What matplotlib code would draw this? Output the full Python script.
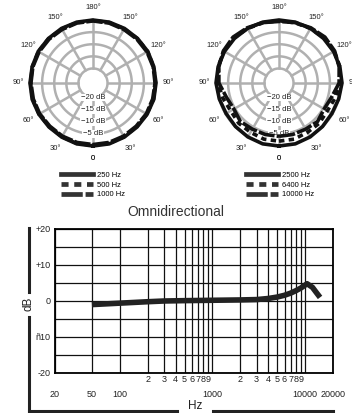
import numpy as np
import matplotlib
matplotlib.use('Agg')
import matplotlib.pyplot as plt
from matplotlib.lines import Line2D

plt.rcParams['font.family'] = ['Liberation Sans', 'DejaVu Sans']

W, H = 352, 413

# polar data (dB), angles 0..180 on one side, mirrored on the other
angles = [0, 15, 30, 45, 60, 75, 90, 105, 120, 135, 150, 165, 180]
left_labels = ['250 Hz', '500 Hz', '1000 Hz']
left_vals = [
    [0, 0, -0.2, -0.3, -0.2, 0, 0, 0, 0.1, 0, 0, 0, 0],
    [-0.3, -0.2, -0.4, -0.5, -0.3, -0.2, -0.2, -0.1, 0, -0.1, -0.2, -0.2, -0.2],
    [-0.6, -0.6, -0.7, -0.8, -0.6, -0.5, -0.4, -0.3, -0.3, -0.4, -0.5, -0.4, -0.4],
]
right_labels = ['2500 Hz', '6400 Hz', '10000 Hz']
right_vals = [
    [0, 0, -0.3, -0.6, -0.8, -0.5, 0, 0, 0, 0, 0, 0, 0],
    [-2, -2, -2.5, -2.5, -3, -2, -0.8, 0, 0.3, 0.3, 0, -0.3, -0.3],
    [-4, -4, -4, -3.5, -4.5, -3.5, -1.2, -0.3, 0.5, 0.8, 0.3, -0.2, -0.6],
]
styles = ['-', (0, (1.5, 1.2)), (0, (4.5, 0.6))]

# frequency response
freq = [50, 100, 200, 300, 500, 1000, 2000, 3000, 4000, 5000, 6000, 7000, 8000, 9000, 10500, 12000, 13000, 14500]
resp = [-1.0, -0.6, -0.2, 0.0, 0.1, 0.2, 0.3, 0.4, 0.7, 1.1, 1.6, 2.2, 2.9, 3.6, 4.8, 3.8, 2.6, 1.0]
ytick_vals = [20, 10, 0, -10, -20]
ytick_labels = ['+20', '+10', '0', 'ñ10', '-20']
xmajor = [20, 50, 100, 1000, 10000, 20000]
xmajor_labels = ['20', '50', '100', '1000', '10000', '20000']
xminor = [200, 300, 400, 500, 600, 700, 800, 900,
          2000, 3000, 4000, 5000, 6000, 7000, 8000, 9000]
xminor_labels = ['2', '3', '4', '5', '6', '7', '8', '9'] * 2

fig = plt.figure(figsize=(W / 100, H / 100), dpi=100)


def fx(x):
    return x / W


def fy(y):
    return 1 - y / H


def polar_panel(cx, cy, vals, labels, leg_x):
    R = 63
    ax = fig.add_axes([fx(cx - R), fy(cy + R), 2 * R / W, 2 * R / H], projection='polar')
    ax.set_theta_zero_location('S')
    ax.set_ylim(-26, 0)
    ax.grid(False)
    ax.spines['polar'].set_visible(False)
    ax.set_xticks([])
    ax.set_yticks([])
    t = np.linspace(0, 2 * np.pi, 361)
    gc = '#b0b0b0'
    for r in [-20, -15, -10, -5, 0]:
        ax.plot(t, np.full_like(t, r), color=gc, lw=1.8, zorder=1)
    for a in range(0, 360, 30):
        ax.plot([np.radians(a)] * 2, [-20, 0], color=gc, lw=1.8, zorder=1)
    for r, s in zip([-20, -15, -10, -5], ['−20 dB', '−15 dB', '−10 dB', '−5 dB']):
        ax.text(0, r, s, ha='center', va='center', fontsize=5.5, color='#222222',
                bbox=dict(fc='white', ec='none', pad=0.3), zorder=2)
    for a in range(0, 181, 30):
        s = '0' if a == 0 else '%d°' % a
        for th in {a, 360 - a}:
            ax.text(np.radians(th), 5, s, ha='center', va='center', fontsize=5.5,
                    color='#222222', clip_on=False)
    ang = np.array(angles, dtype=float)
    handles = []
    for v, lab, ls in zip(vals, labels, styles):
        v = np.array(v, dtype=float)
        th = np.radians(np.concatenate([ang, 360 - ang[::-1]]))
        rr = np.concatenate([v, v[::-1]])
        ax.plot(th, rr, color='#111111', lw=2.6, ls=ls, zorder=3, clip_on=False)
        handles.append(Line2D([], [], color='#333333', lw=3.4, ls=ls))
    fig.legend(handles, labels, loc='upper left', bbox_to_anchor=(fx(leg_x), fy(168)),
               frameon=False, fontsize=5.5, handlelength=4.2, handletextpad=0.6,
               labelspacing=0.3, borderpad=0)


polar_panel(93, 83, left_vals, left_labels, 57)
polar_panel(279, 83, right_vals, right_labels, 242)

fig.text(fx(176), fy(212), 'Omnidirectional', ha='center', va='center',
         fontsize=10, color='#333333')

ax = fig.add_axes([fx(55), fy(373), 278 / W, 144 / H])
ax.set_xscale('log')
ax.set_xlim(20, 20000)
ax.set_ylim(-20, 20)
ax.plot(freq, resp, color='#222222', lw=4, solid_capstyle='butt', zorder=3)
ax.set_yticks(ytick_vals)
ax.set_yticklabels(ytick_labels)
ax.set_yticks([-15, -5, 5, 15], minor=True)
ax.set_xticks(xmajor)
ax.set_xticklabels(xmajor_labels)
ax.set_xticks(xminor, minor=True)
ax.set_xticklabels(xminor_labels, minor=True)
ax.tick_params(which='both', length=0, labelsize=6.5, colors='#222222')
ax.tick_params(axis='x', which='major', pad=12)
ax.tick_params(axis='x', which='minor', pad=1.5)
ax.tick_params(axis='y', pad=3)
ax.grid(which='both', color='#111111', lw=0.9)
for sp in ax.spines.values():
    sp.set_linewidth(1.3)

# axis decorations
lc = '#222222'
fig.add_artist(Line2D([fx(29)] * 2, [fy(228), fy(292)], color=lc, lw=2.2))
fig.add_artist(Line2D([fx(29)] * 2, [fy(317), fy(411)], color=lc, lw=2.2))
fig.add_artist(Line2D([fx(29), fx(177)], [fy(411)] * 2, color=lc, lw=2.2))
fig.add_artist(Line2D([fx(213), fx(333)], [fy(411)] * 2, color=lc, lw=2.2))
fig.text(fx(29), fy(304), 'dB', rotation=90, ha='center', va='center', fontsize=8.5, color=lc)
fig.text(fx(195), fy(406), 'Hz', ha='center', va='center', fontsize=8.5, color=lc)

fig.savefig('out.png', dpi=100)
